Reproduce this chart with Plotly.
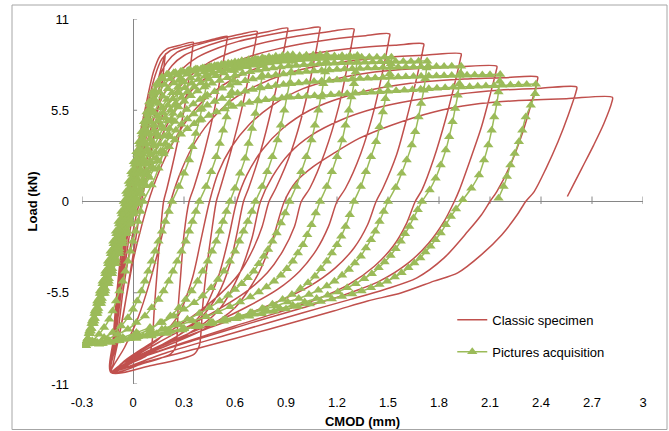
import plotly.graph_objects as go

# ---------------- axis ticks ----------------
x_ticks = [-0.3, 0, 0.3, 0.6, 0.9, 1.2, 1.5, 1.8, 2.1, 2.4, 2.7, 3]
x_tick_text = ["-0.3", "0", "0.3", "0.6", "0.9", "1.2", "1.5", "1.8", "2.1", "2.4", "2.7", "3"]
y_ticks = [-11, -5.5, 0, 5.5, 11]
y_tick_text = ["-11", "-5.5", "0", "5.5", "11"]

# ---------------- Classic specimen (CMOD mm, load kN), one list per cycle ----------------
red_cycle_01 = [(0.0, 0.0), (0.05, 2.5), (0.10, 5.0), (0.14, 7.0), (0.17, 8.2), (0.19, 8.9), (0.187, 8.6), (0.17, 7.0),
                (0.13, 4.5), (0.09, 2.0), (0.05, 0.0), (0.02, -2.0), (-0.02, -4.5), (-0.06, -7.0), (-0.10, -9.0), (-0.13, -10.3)]
red_cycle_02 = [(-0.115, -8.0), (-0.095, -5.5), (-0.07, -3.0), (-0.04, -0.5), (-0.01, 1.5), (0.03, 3.5), (0.08, 6.0), (0.12, 7.8),
                (0.16, 8.8), (0.20, 9.2), (0.27, 9.4), (0.355, 9.6), (0.352, 9.35), (0.33, 7.5), (0.30, 5.5), (0.25, 3.0), (0.20, 0.8),
                (0.18, 0.0), (0.16, -2.0), (0.14, -4.5), (0.125, -6.5), (0.115, -8.2), (0.105, -8.9), (0.08, -9.3), (0.0, -9.7), (-0.13, -10.3)]
red_cycle_03 = [(-0.11, -8.0), (-0.09, -5.5), (-0.06, -3.0), (-0.03, -0.5), (0.0, 1.5), (0.04, 3.5), (0.09, 6.0), (0.13, 7.6), (0.17, 8.6),
                (0.22, 9.1), (0.30, 9.35), (0.40, 9.6), (0.48, 9.8), (0.555, 9.95), (0.552, 9.7), (0.52, 7.8), (0.48, 5.6), (0.42, 3.0),
                (0.36, 0.9), (0.33, 0.0), (0.30, -2.0), (0.28, -4.5), (0.265, -6.5), (0.26, -8.0), (0.25, -8.8), (0.22, -9.2), (0.05, -9.8), (-0.13, -10.3)]
red_cycle_04 = [(-0.11, -8.0), (-0.085, -5.5), (-0.055, -3.0), (-0.025, -0.5), (0.01, 1.5), (0.05, 3.5), (0.10, 5.8), (0.15, 7.4), (0.20, 8.4),
                (0.26, 9.0), (0.35, 9.35), (0.45, 9.65), (0.55, 9.9), (0.64, 10.1), (0.73, 10.25), (0.727, 10.0), (0.69, 8.0), (0.64, 5.6),
                (0.57, 2.8), (0.51, 0.7), (0.49, 0.0), (0.46, -2.0), (0.43, -4.3), (0.41, -6.3), (0.40, -7.9), (0.39, -8.7), (0.36, -9.2),
                (0.10, -9.9), (-0.13, -10.3)]
red_cycle_05 = [(-0.105, -8.0), (-0.08, -5.5), (-0.05, -3.0), (-0.02, -0.5), (0.02, 1.5), (0.06, 3.5), (0.11, 5.6), (0.17, 7.2), (0.23, 8.2),
                (0.30, 8.8), (0.40, 9.25), (0.50, 9.6), (0.60, 9.85), (0.70, 10.05), (0.80, 10.25), (0.91, 10.45), (0.907, 10.2), (0.87, 8.2),
                (0.82, 5.8), (0.75, 3.0), (0.68, 0.8), (0.65, 0.0), (0.61, -2.0), (0.57, -3.8), (0.50, -5.6), (0.40, -7.0), (0.28, -8.0),
                (0.12, -8.9), (0.0, -9.6), (-0.13, -10.3)]
red_cycle_06 = [(-0.10, -8.0), (-0.075, -5.5), (-0.045, -3.0), (-0.01, -0.5), (0.03, 1.5), (0.08, 3.5), (0.14, 5.5), (0.21, 7.0), (0.29, 8.0),
                (0.38, 8.7), (0.50, 9.25), (0.62, 9.65), (0.75, 9.95), (0.88, 10.2), (1.00, 10.38), (1.10, 10.5), (1.097, 10.25), (1.06, 8.2),
                (1.01, 5.8), (0.93, 3.0), (0.84, 0.8), (0.80, 0.0), (0.76, -1.5), (0.70, -3.0), (0.62, -4.4), (0.51, -5.6), (0.38, -6.7),
                (0.22, -7.8), (0.05, -8.9), (-0.05, -9.6), (-0.13, -10.3)]
red_cycle_07 = [(-0.10, -8.0), (-0.07, -5.5), (-0.035, -3.0), (0.0, -0.7), (0.05, 1.3), (0.10, 3.2), (0.17, 5.1), (0.25, 6.6), (0.34, 7.6),
                (0.45, 8.4), (0.58, 9.0), (0.72, 9.45), (0.87, 9.8), (1.02, 10.05), (1.16, 10.25), (1.30, 10.4), (1.297, 10.15), (1.26, 8.1),
                (1.21, 5.7), (1.13, 3.0), (1.04, 0.8), (0.99, 0.0), (0.95, -1.5), (0.88, -3.0), (0.79, -4.3), (0.67, -5.4), (0.52, -6.4),
                (0.33, -7.5), (0.15, -8.5), (0.0, -9.4), (-0.13, -10.3)]
red_cycle_08 = [(-0.09, -8.0), (-0.06, -5.5), (-0.02, -3.0), (0.02, -0.8), (0.07, 1.2), (0.13, 3.0), (0.21, 4.8), (0.30, 6.2), (0.41, 7.3),
                (0.54, 8.1), (0.69, 8.75), (0.85, 9.2), (1.02, 9.55), (1.18, 9.8), (1.35, 9.98), (1.51, 10.1), (1.507, 9.85), (1.47, 7.9),
                (1.42, 5.6), (1.34, 2.9), (1.25, 0.8), (1.20, 0.0), (1.15, -1.5), (1.08, -2.9), (0.98, -4.2), (0.85, -5.3), (0.68, -6.3),
                (0.48, -7.3), (0.25, -8.3), (0.05, -9.3), (-0.13, -10.3)]
red_cycle_09 = [(-0.08, -8.0), (-0.04, -5.8), (0.0, -3.6), (0.05, -1.5), (0.10, 0.3), (0.17, 2.2), (0.26, 4.0), (0.37, 5.6), (0.50, 6.8),
                (0.65, 7.7), (0.82, 8.35), (1.00, 8.8), (1.18, 9.1), (1.36, 9.3), (1.54, 9.42), (1.71, 9.5), (1.707, 9.25), (1.67, 7.5),
                (1.62, 5.4), (1.55, 2.8), (1.47, 0.8), (1.43, 0.0), (1.38, -1.4), (1.30, -2.8), (1.19, -4.0), (1.04, -5.1), (0.86, -6.0),
                (0.64, -6.9), (0.40, -7.8), (0.15, -8.8), (-0.13, -10.3)]
red_cycle_10 = [(-0.05, -8.8), (0.03, -7.0), (0.10, -4.8), (0.16, -2.5), (0.21, -0.4), (0.27, 1.5), (0.35, 3.3), (0.45, 4.8), (0.58, 6.1),
                (0.73, 7.0), (0.90, 7.7), (1.10, 8.2), (1.30, 8.5), (1.50, 8.7), (1.72, 8.82), (1.93, 8.9), (1.927, 8.65), (1.89, 7.0),
                (1.84, 5.0), (1.77, 2.6), (1.70, 0.7), (1.66, 0.0), (1.61, -1.3), (1.53, -2.7), (1.42, -3.9), (1.27, -5.0), (1.08, -5.9),
                (0.85, -6.7), (0.60, -7.5), (0.30, -8.5), (0.05, -9.4), (-0.13, -10.3)]
red_cycle_11 = [(0.0, -9.3), (0.15, -8.3), (0.27, -6.8), (0.35, -4.6), (0.40, -2.3), (0.45, 0.0), (0.50, 1.7), (0.58, 3.3), (0.68, 4.6),
                (0.82, 5.8), (1.00, 6.8), (1.20, 7.4), (1.42, 7.8), (1.65, 8.0), (1.90, 8.1), (2.14, 8.15), (2.137, 7.9), (2.10, 6.4),
                (2.05, 4.5), (1.98, 2.4), (1.92, 0.7), (1.89, 0.0), (1.83, -1.2), (1.74, -2.5), (1.62, -3.7), (1.45, -4.8), (1.25, -5.6),
                (1.00, -6.4), (0.70, -7.3), (0.35, -8.4), (0.05, -9.4), (-0.13, -10.3)]
red_cycle_12 = [(0.05, -9.2), (0.25, -8.2), (0.40, -6.8), (0.50, -4.6), (0.56, -2.3), (0.61, 0.0), (0.67, 1.6), (0.76, 3.1), (0.88, 4.4),
                (1.04, 5.5), (1.24, 6.3), (1.46, 6.85), (1.70, 7.2), (1.95, 7.38), (2.18, 7.46), (2.38, 7.5), (2.377, 7.25), (2.34, 5.8),
                (2.29, 4.1), (2.22, 2.2), (2.14, 0.6), (2.10, 0.0), (2.05, -0.8), (1.97, -1.8), (1.83, -3.4), (1.67, -4.6), (1.48, -5.3),
                (1.28, -5.9), (1.00, -6.7), (0.60, -7.9), (0.20, -9.1), (-0.13, -10.3)]
red_cycle_13 = [(0.10, -9.0), (0.32, -8.0), (0.50, -6.6), (0.62, -4.5), (0.70, -2.2), (0.75, 0.0), (0.82, 1.5), (0.92, 2.9), (1.05, 4.0),
                (1.22, 4.9), (1.42, 5.6), (1.65, 6.1), (1.90, 6.45), (2.15, 6.7), (2.40, 6.83), (2.61, 6.9), (2.607, 6.65), (2.56, 5.2),
                (2.50, 3.6), (2.43, 2.0), (2.36, 0.6), (2.31, 0.0), (2.26, -0.8), (2.17, -2.0), (2.05, -3.2), (1.91, -4.3), (1.77, -4.8),
                (1.58, -5.5), (1.38, -6.0), (1.18, -6.6), (0.80, -7.7), (0.40, -8.8), (0.10, -9.6), (-0.13, -10.3)]
red_cycle_14 = [(0.15, -8.9), (0.40, -7.8), (0.60, -6.4), (0.74, -4.3), (0.83, -2.0), (0.89, 0.0), (0.96, 1.2), (1.06, 2.1), (1.18, 2.9),
                (1.33, 3.8), (1.52, 4.6), (1.77, 5.4), (2.00, 5.85), (2.25, 6.08), (2.55, 6.2), (2.82, 6.28), (2.817, 6.0), (2.77, 4.7),
                (2.71, 3.4), (2.64, 2.0), (2.59, 1.0), (2.555, 0.3)]

# ---------------- Pictures acquisition, one list per cycle ----------------
green_cycle_01 = [(0.0, 0.0), (0.01, 0.6), (0.02, 1.2), (0.035, 1.8), (0.045, 2.4), (0.055, 3.0), (0.065, 3.6), (0.075, 4.2), (0.09, 4.8),
                  (0.10, 5.4), (0.115, 6.0), (0.13, 6.6), (0.15, 7.1), (0.17, 7.5), (0.20, 7.65), (0.24, 7.75), (0.28, 7.8),
                  (0.275, 7.3), (0.265, 6.6), (0.25, 5.8), (0.23, 4.9), (0.21, 4.0), (0.18, 3.0), (0.15, 2.0), (0.11, 1.0), (0.06, 0.0),
                  (0.045, -0.6), (0.03, -1.2), (0.015, -1.8), (0.0, -2.4), (-0.015, -3.0), (-0.03, -3.6), (-0.045, -4.2), (-0.06, -4.8),
                  (-0.08, -5.4), (-0.10, -6.0), (-0.12, -6.6), (-0.14, -7.1), (-0.17, -7.6), (-0.20, -8.0), (-0.24, -8.4), (-0.28, -8.7)]
green_cycle_02 = [(-0.272, -8.4), (-0.257, -7.8), (-0.241, -7.2), (-0.225, -6.6), (-0.21, -6.0), (-0.194, -5.4), (-0.179, -4.8),
                  (-0.163, -4.2), (-0.147, -3.6), (-0.132, -3.0), (-0.116, -2.4), (-0.101, -1.8), (-0.085, -1.2), (-0.069, -0.6),
                  (-0.054, 0.0), (-0.04, 0.6), (-0.025, 1.2), (-0.01, 1.8), (0.005, 2.4), (0.02, 3.0), (0.035, 3.6), (0.05, 4.2),
                  (0.065, 4.8), (0.08, 5.4), (0.095, 6.0), (0.115, 6.6), (0.14, 7.1), (0.17, 7.45), (0.20, 7.65), (0.24, 7.75),
                  (0.28, 7.82), (0.32, 7.87), (0.36, 7.92), (0.40, 7.96), (0.44, 8.0),
                  (0.437, 7.6), (0.43, 7.0), (0.42, 6.3), (0.405, 5.6), (0.39, 4.9), (0.37, 4.1), (0.35, 3.3), (0.33, 2.5), (0.30, 1.7),
                  (0.27, 0.9), (0.23, 0.0), (0.21, -0.6), (0.19, -1.2), (0.17, -1.8), (0.15, -2.4), (0.13, -3.0), (0.11, -3.6),
                  (0.09, -4.2), (0.07, -4.8), (0.05, -5.4), (0.025, -6.0), (0.0, -6.5), (-0.03, -7.0), (-0.07, -7.5), (-0.12, -7.9),
                  (-0.17, -8.2), (-0.22, -8.45), (-0.28, -8.7)]
green_cycle_03 = [(-0.276, -8.55), (-0.26, -7.95), (-0.244, -7.35), (-0.227, -6.75), (-0.211, -6.15), (-0.195, -5.55), (-0.179, -4.95),
                  (-0.163, -4.35), (-0.146, -3.75), (-0.13, -3.15), (-0.114, -2.55), (-0.098, -1.95), (-0.082, -1.35), (-0.065, -0.75),
                  (-0.049, -0.15), (-0.035, 0.45), (-0.02, 1.05), (-0.005, 1.65), (0.01, 2.25), (0.025, 2.85), (0.04, 3.45), (0.055, 4.05),
                  (0.07, 4.65), (0.085, 5.25), (0.10, 5.85), (0.12, 6.45), (0.145, 7.0), (0.175, 7.4), (0.21, 7.65), (0.25, 7.78),
                  (0.29, 7.86), (0.33, 7.93), (0.37, 7.99), (0.41, 8.05), (0.45, 8.1), (0.49, 8.16), (0.53, 8.21), (0.565, 8.26), (0.60, 8.3),
                  (0.597, 7.9), (0.59, 7.3), (0.58, 6.6), (0.565, 5.9), (0.55, 5.1), (0.53, 4.3), (0.51, 3.5), (0.49, 2.7), (0.46, 1.8),
                  (0.43, 0.9), (0.39, 0.0), (0.37, -0.6), (0.35, -1.2), (0.33, -1.8), (0.31, -2.4), (0.285, -3.0), (0.26, -3.6),
                  (0.235, -4.2), (0.21, -4.8), (0.18, -5.4), (0.15, -5.9), (0.11, -6.4), (0.07, -6.9), (0.02, -7.3), (-0.03, -7.7),
                  (-0.09, -8.0), (-0.15, -8.3), (-0.21, -8.5), (-0.28, -8.7)]
green_cycle_04 = [(-0.267, -8.25), (-0.251, -7.65), (-0.234, -7.05), (-0.217, -6.45), (-0.20, -5.85), (-0.183, -5.25), (-0.167, -4.65),
                  (-0.15, -4.05), (-0.133, -3.45), (-0.116, -2.85), (-0.099, -2.25), (-0.083, -1.65), (-0.066, -1.05), (-0.049, -0.45),
                  (-0.034, 0.15), (-0.02, 0.75), (-0.005, 1.35), (0.01, 1.95), (0.025, 2.55), (0.04, 3.15), (0.055, 3.75), (0.07, 4.35),
                  (0.09, 4.95), (0.11, 5.55), (0.13, 6.1), (0.155, 6.6), (0.185, 7.05), (0.22, 7.4), (0.26, 7.62), (0.30, 7.77),
                  (0.34, 7.88), (0.38, 7.97), (0.42, 8.05), (0.46, 8.13), (0.50, 8.2), (0.54, 8.27), (0.58, 8.34), (0.62, 8.4),
                  (0.66, 8.46), (0.70, 8.52), (0.735, 8.56), (0.77, 8.6),
                  (0.767, 8.2), (0.76, 7.6), (0.75, 6.9), (0.735, 6.1), (0.72, 5.3), (0.70, 4.4), (0.68, 3.5), (0.66, 2.6), (0.63, 1.7),
                  (0.60, 0.8), (0.57, 0.0), (0.55, -0.6), (0.53, -1.2), (0.51, -1.8), (0.49, -2.4), (0.465, -3.0), (0.44, -3.6),
                  (0.41, -4.2), (0.38, -4.8), (0.345, -5.4), (0.31, -5.9), (0.27, -6.4), (0.22, -6.9), (0.16, -7.3), (0.10, -7.7),
                  (0.03, -8.0), (-0.05, -8.3), (-0.13, -8.5), (-0.20, -8.6), (-0.28, -8.7)]
green_cycle_05 = [(-0.271, -8.4), (-0.254, -7.8), (-0.237, -7.2), (-0.219, -6.6), (-0.202, -6.0), (-0.184, -5.4), (-0.167, -4.8),
                  (-0.149, -4.2), (-0.132, -3.6), (-0.115, -3.0), (-0.097, -2.4), (-0.08, -1.8), (-0.062, -1.2), (-0.045, -0.6),
                  (-0.028, 0.0), (-0.013, 0.6), (0.002, 1.2), (0.017, 1.8), (0.033, 2.4), (0.05, 3.0), (0.067, 3.6), (0.085, 4.2),
                  (0.105, 4.8), (0.125, 5.35), (0.15, 5.9), (0.175, 6.35), (0.205, 6.8), (0.24, 7.15), (0.28, 7.45), (0.32, 7.67),
                  (0.36, 7.85), (0.40, 7.98), (0.44, 8.08), (0.48, 8.18), (0.52, 8.26), (0.56, 8.34), (0.60, 8.41), (0.64, 8.48),
                  (0.68, 8.54), (0.72, 8.6), (0.76, 8.66), (0.80, 8.71), (0.84, 8.76), (0.88, 8.8), (0.91, 8.83), (0.94, 8.85),
                  (0.937, 8.45), (0.93, 7.8), (0.92, 7.1), (0.905, 6.3), (0.89, 5.5), (0.87, 4.6), (0.85, 3.7), (0.82, 2.7), (0.79, 1.8),
                  (0.76, 0.9), (0.72, 0.0), (0.70, -0.6), (0.675, -1.2), (0.65, -1.8), (0.625, -2.4), (0.60, -3.0), (0.57, -3.6),
                  (0.535, -4.2), (0.50, -4.7), (0.46, -5.2), (0.41, -5.7), (0.36, -6.1), (0.30, -6.5), (0.24, -6.9), (0.17, -7.3),
                  (0.10, -7.6), (0.02, -7.9), (-0.06, -8.2), (-0.14, -8.4), (-0.21, -8.55), (-0.28, -8.7)]
green_cycle_06 = [(-0.276, -8.55), (-0.258, -7.95), (-0.24, -7.35), (-0.222, -6.75), (-0.204, -6.15), (-0.186, -5.55), (-0.168, -4.95),
                  (-0.15, -4.35), (-0.132, -3.75), (-0.114, -3.15), (-0.096, -2.55), (-0.078, -1.95), (-0.06, -1.35), (-0.042, -0.75),
                  (-0.024, -0.15), (-0.008, 0.45), (0.008, 1.05), (0.025, 1.65), (0.042, 2.25), (0.06, 2.85), (0.08, 3.45), (0.10, 4.05),
                  (0.12, 4.6), (0.145, 5.15), (0.17, 5.65), (0.20, 6.15), (0.23, 6.55), (0.265, 6.9), (0.30, 7.2), (0.34, 7.45),
                  (0.38, 7.65), (0.42, 7.8), (0.46, 7.93), (0.50, 8.04), (0.54, 8.14), (0.58, 8.23), (0.62, 8.31), (0.66, 8.38),
                  (0.70, 8.45), (0.74, 8.51), (0.78, 8.57), (0.82, 8.62), (0.86, 8.67), (0.90, 8.71), (0.94, 8.75), (0.98, 8.78),
                  (1.02, 8.81), (1.06, 8.83), (1.10, 8.84), (1.14, 8.85),
                  (1.137, 8.45), (1.13, 7.8), (1.12, 7.1), (1.105, 6.3), (1.09, 5.5), (1.07, 4.6), (1.05, 3.7), (1.02, 2.7), (0.99, 1.8),
                  (0.96, 0.9), (0.92, 0.0), (0.895, -0.7), (0.87, -1.3), (0.845, -1.9), (0.82, -2.4), (0.795, -2.9), (0.77, -3.3),
                  (0.74, -3.75), (0.71, -4.2), (0.675, -4.6), (0.64, -4.95), (0.60, -5.3), (0.56, -5.65), (0.51, -6.0), (0.45, -6.4),
                  (0.39, -6.75), (0.32, -7.1), (0.25, -7.4), (0.17, -7.7), (0.09, -7.95), (0.0, -8.15), (-0.09, -8.35), (-0.19, -8.55),
                  (-0.28, -8.7)]
green_cycle_07 = [(-0.266, -8.25), (-0.247, -7.65), (-0.229, -7.05), (-0.21, -6.45), (-0.192, -5.85), (-0.173, -5.25), (-0.154, -4.65),
                  (-0.136, -4.05), (-0.117, -3.45), (-0.099, -2.85), (-0.08, -2.25), (-0.061, -1.65), (-0.043, -1.05), (-0.024, -0.45),
                  (-0.008, 0.15), (0.008, 0.75), (0.025, 1.35), (0.043, 1.95), (0.062, 2.55), (0.082, 3.15), (0.103, 3.75), (0.125, 4.3),
                  (0.15, 4.85), (0.177, 5.35), (0.205, 5.8), (0.235, 6.2), (0.27, 6.55), (0.305, 6.85), (0.345, 7.12), (0.385, 7.35),
                  (0.425, 7.55), (0.465, 7.72), (0.51, 7.87), (0.555, 8.0), (0.60, 8.1), (0.645, 8.2), (0.69, 8.28), (0.735, 8.35),
                  (0.78, 8.42), (0.825, 8.48), (0.87, 8.53), (0.915, 8.58), (0.96, 8.62), (1.005, 8.66), (1.05, 8.69), (1.095, 8.72),
                  (1.14, 8.75), (1.185, 8.77), (1.23, 8.78), (1.275, 8.79), (1.32, 8.8),
                  (1.317, 8.4), (1.31, 7.8), (1.30, 7.1), (1.285, 6.3), (1.27, 5.5), (1.25, 4.6), (1.23, 3.7), (1.20, 2.7), (1.17, 1.8),
                  (1.14, 0.9), (1.10, 0.0), (1.075, -0.7), (1.05, -1.4), (1.025, -2.0), (1.0, -2.6), (0.97, -3.1), (0.94, -3.6),
                  (0.905, -4.05), (0.87, -4.45), (0.83, -4.8), (0.785, -5.15), (0.74, -5.45), (0.69, -5.75), (0.63, -6.05), (0.57, -6.35),
                  (0.50, -6.65), (0.43, -6.95), (0.35, -7.2), (0.27, -7.45), (0.19, -7.7), (0.10, -7.95), (0.01, -8.15), (-0.08, -8.35),
                  (-0.18, -8.55), (-0.28, -8.7)]
green_cycle_08 = [(-0.27, -8.4), (-0.251, -7.8), (-0.232, -7.2), (-0.213, -6.6), (-0.194, -6.0), (-0.174, -5.4), (-0.155, -4.8),
                  (-0.136, -4.2), (-0.117, -3.6), (-0.098, -3.0), (-0.078, -2.4), (-0.059, -1.8), (-0.04, -1.2), (-0.021, -0.6),
                  (-0.002, 0.0), (0.015, 0.6), (0.033, 1.2), (0.052, 1.8), (0.072, 2.4), (0.093, 3.0), (0.115, 3.55), (0.14, 4.1),
                  (0.165, 4.6), (0.19, 5.05), (0.22, 5.5), (0.25, 5.9), (0.285, 6.27), (0.32, 6.6), (0.36, 6.9), (0.40, 7.15),
                  (0.445, 7.38), (0.49, 7.58), (0.535, 7.75), (0.58, 7.9), (0.625, 8.02), (0.67, 8.12), (0.715, 8.21), (0.76, 8.28),
                  (0.805, 8.35), (0.85, 8.41), (0.895, 8.46), (0.94, 8.5), (0.985, 8.54), (1.03, 8.57), (1.075, 8.6), (1.12, 8.62),
                  (1.165, 8.64), (1.21, 8.66), (1.255, 8.67), (1.30, 8.68), (1.345, 8.69), (1.39, 8.695), (1.435, 8.7), (1.48, 8.7), (1.52, 8.7),
                  (1.517, 8.3), (1.51, 7.7), (1.50, 7.0), (1.485, 6.2), (1.47, 5.4), (1.45, 4.5), (1.43, 3.6), (1.40, 2.7), (1.37, 1.8),
                  (1.34, 0.9), (1.30, 0.0), (1.275, -0.8), (1.25, -1.5), (1.225, -2.1), (1.20, -2.6), (1.17, -3.1), (1.14, -3.6),
                  (1.105, -4.05), (1.07, -4.5), (1.03, -4.9), (0.985, -5.25), (0.935, -5.6), (0.88, -5.9), (0.82, -6.2), (0.76, -6.45),
                  (0.69, -6.7), (0.615, -6.95), (0.53, -7.15), (0.45, -7.35), (0.37, -7.55), (0.29, -7.75), (0.20, -7.95), (0.11, -8.1),
                  (0.02, -8.25), (-0.08, -8.4), (-0.18, -8.55), (-0.28, -8.7)]
green_cycle_09 = [(-0.275, -8.55), (-0.255, -7.95), (-0.235, -7.35), (-0.216, -6.75), (-0.196, -6.15), (-0.176, -5.55), (-0.156, -4.95),
                  (-0.136, -4.35), (-0.117, -3.75), (-0.097, -3.15), (-0.077, -2.55), (-0.057, -1.95), (-0.037, -1.35), (-0.018, -0.75),
                  (0.002, -0.15), (0.02, 0.45), (0.039, 1.05), (0.059, 1.65), (0.08, 2.25), (0.102, 2.8), (0.125, 3.35), (0.15, 3.9),
                  (0.177, 4.4), (0.205, 4.85), (0.235, 5.3), (0.268, 5.7), (0.302, 6.05), (0.34, 6.38), (0.38, 6.66), (0.42, 6.9),
                  (0.465, 7.12), (0.51, 7.3), (0.555, 7.46), (0.60, 7.6), (0.645, 7.72), (0.69, 7.82), (0.735, 7.91), (0.78, 7.98),
                  (0.825, 8.05), (0.87, 8.11), (0.915, 8.16), (0.96, 8.2), (1.005, 8.24), (1.05, 8.27), (1.095, 8.3), (1.14, 8.32),
                  (1.185, 8.34), (1.23, 8.36), (1.275, 8.38), (1.32, 8.39), (1.365, 8.4), (1.41, 8.41), (1.455, 8.42), (1.50, 8.43),
                  (1.545, 8.435), (1.59, 8.44), (1.635, 8.445), (1.68, 8.45), (1.73, 8.45),
                  (1.727, 8.05), (1.72, 7.4), (1.71, 6.7), (1.695, 5.9), (1.68, 5.1), (1.66, 4.2), (1.64, 3.4), (1.61, 2.5), (1.58, 1.7),
                  (1.545, 0.85), (1.50, 0.0), (1.475, -0.6), (1.45, -1.2), (1.425, -1.8), (1.40, -2.3), (1.37, -2.8), (1.34, -3.3),
                  (1.305, -3.7), (1.27, -4.1), (1.23, -4.45), (1.185, -4.8), (1.14, -5.1), (1.09, -5.35), (1.035, -5.6), (0.975, -5.85),
                  (0.91, -6.05), (0.84, -6.3), (0.77, -6.5), (0.70, -6.7), (0.62, -6.9), (0.54, -7.1), (0.46, -7.3), (0.38, -7.5),
                  (0.29, -7.7), (0.20, -7.9), (0.11, -8.05), (0.02, -8.2), (-0.08, -8.35), (-0.18, -8.55), (-0.28, -8.7)]
green_cycle_10 = [(-0.265, -8.25), (-0.244, -7.65), (-0.224, -7.05), (-0.204, -6.45), (-0.183, -5.85), (-0.163, -5.25), (-0.142, -4.65),
                  (-0.122, -4.05), (-0.102, -3.45), (-0.081, -2.85), (-0.061, -2.25), (-0.04, -1.65), (-0.02, -1.05), (0.001, -0.45),
                  (0.02, 0.15), (0.04, 0.75), (0.06, 1.3), (0.082, 1.85), (0.105, 2.4), (0.13, 2.95), (0.156, 3.45), (0.184, 3.95),
                  (0.214, 4.4), (0.246, 4.82), (0.28, 5.2), (0.316, 5.55), (0.355, 5.87), (0.395, 6.15), (0.437, 6.4), (0.48, 6.62),
                  (0.525, 6.82), (0.57, 7.0), (0.615, 7.15), (0.66, 7.28), (0.705, 7.39), (0.75, 7.48), (0.795, 7.56), (0.84, 7.63),
                  (0.885, 7.69), (0.93, 7.74), (0.975, 7.79), (1.02, 7.83), (1.065, 7.87), (1.11, 7.9), (1.155, 7.93), (1.20, 7.96),
                  (1.245, 7.98), (1.29, 8.0), (1.335, 8.02), (1.38, 8.04), (1.425, 8.05), (1.47, 8.07), (1.515, 8.08), (1.56, 8.09),
                  (1.605, 8.1), (1.65, 8.11), (1.695, 8.12), (1.74, 8.13), (1.785, 8.135), (1.83, 8.14), (1.875, 8.145), (1.93, 8.15),
                  (1.927, 7.75), (1.92, 7.1), (1.91, 6.4), (1.895, 5.6), (1.88, 4.8), (1.86, 3.9), (1.84, 3.1), (1.81, 2.2), (1.78, 1.4),
                  (1.745, 0.7), (1.70, 0.0), (1.675, -0.5), (1.65, -1.0), (1.625, -1.5), (1.60, -1.95), (1.575, -2.4), (1.545, -2.85),
                  (1.515, -3.25), (1.48, -3.65), (1.445, -4.0), (1.405, -4.35), (1.36, -4.65), (1.31, -4.95), (1.26, -5.2), (1.205, -5.45),
                  (1.145, -5.65), (1.08, -5.85), (1.01, -6.05), (0.94, -6.25), (0.865, -6.45), (0.79, -6.62), (0.71, -6.8), (0.63, -6.97),
                  (0.55, -7.14), (0.47, -7.3), (0.39, -7.47), (0.30, -7.65), (0.21, -7.83), (0.12, -8.0), (0.03, -8.15), (-0.06, -8.3),
                  (-0.15, -8.45), (-0.22, -8.58), (-0.28, -8.7)]
green_cycle_11 = [(-0.27, -8.4), (-0.249, -7.8), (-0.228, -7.2), (-0.207, -6.6), (-0.186, -6.0), (-0.164, -5.4), (-0.143, -4.8),
                  (-0.122, -4.2), (-0.101, -3.6), (-0.08, -3.0), (-0.059, -2.4), (-0.038, -1.8), (-0.017, -1.2), (0.004, -0.6),
                  (0.025, 0.0), (0.045, 0.55), (0.066, 1.1), (0.088, 1.6), (0.112, 2.1), (0.137, 2.6), (0.163, 3.05), (0.19, 3.5),
                  (0.22, 3.9), (0.252, 4.3), (0.285, 4.65), (0.32, 4.98), (0.357, 5.28), (0.396, 5.55), (0.437, 5.8), (0.48, 6.02),
                  (0.525, 6.21), (0.57, 6.38), (0.615, 6.52), (0.66, 6.64), (0.705, 6.75), (0.75, 6.84), (0.795, 6.92), (0.84, 6.99),
                  (0.885, 7.05), (0.93, 7.1), (0.975, 7.15), (1.02, 7.19), (1.065, 7.23), (1.11, 7.27), (1.155, 7.3), (1.20, 7.33),
                  (1.245, 7.36), (1.29, 7.38), (1.335, 7.41), (1.38, 7.43), (1.425, 7.45), (1.47, 7.47), (1.515, 7.49), (1.56, 7.5),
                  (1.605, 7.52), (1.65, 7.53), (1.695, 7.55), (1.74, 7.56), (1.785, 7.57), (1.83, 7.58), (1.875, 7.59), (1.92, 7.6),
                  (1.965, 7.61), (2.01, 7.62), (2.055, 7.63), (2.10, 7.64), (2.16, 7.65),
                  (2.157, 7.25), (2.15, 6.6), (2.14, 5.9), (2.125, 5.1), (2.11, 4.3), (2.09, 3.4), (2.065, 2.5), (2.035, 1.6), (1.99, 0.8),
                  (1.94, 0.1), (1.90, -0.45), (1.87, -0.9), (1.84, -1.4), (1.81, -1.9), (1.78, -2.3), (1.75, -2.7), (1.72, -3.05),
                  (1.69, -3.4), (1.655, -3.7), (1.62, -4.0), (1.58, -4.3), (1.54, -4.55), (1.495, -4.8), (1.45, -5.0), (1.40, -5.2),
                  (1.345, -5.4), (1.29, -5.57), (1.23, -5.73), (1.17, -5.88), (1.105, -6.03), (1.04, -6.18), (0.97, -6.33), (0.90, -6.48),
                  (0.83, -6.62), (0.76, -6.77), (0.685, -6.92), (0.61, -7.07), (0.535, -7.22), (0.46, -7.37), (0.38, -7.52), (0.30, -7.67),
                  (0.22, -7.82), (0.14, -7.97), (0.06, -8.12), (-0.02, -8.27), (-0.10, -8.41), (-0.19, -8.56), (-0.28, -8.7)]
green_cycle_12 = [(-0.275, -8.55), (-0.253, -7.95), (-0.231, -7.35), (-0.21, -6.75), (-0.188, -6.15), (-0.167, -5.55), (-0.145, -4.95),
                  (-0.123, -4.35), (-0.102, -3.75), (-0.08, -3.15), (-0.059, -2.55), (-0.037, -1.95), (-0.015, -1.35), (0.006, -0.75),
                  (0.028, -0.15), (0.05, 0.45), (0.072, 0.95), (0.096, 1.45), (0.122, 1.95), (0.15, 2.42), (0.18, 2.87), (0.212, 3.3),
                  (0.246, 3.7), (0.282, 4.05), (0.32, 4.38), (0.36, 4.68), (0.402, 4.95), (0.446, 5.19), (0.492, 5.4), (0.54, 5.58),
                  (0.588, 5.73), (0.636, 5.86), (0.684, 5.97), (0.732, 6.06), (0.78, 6.13), (0.828, 6.19), (0.876, 6.24), (0.924, 6.28),
                  (0.972, 6.31), (1.02, 6.34), (1.068, 6.37), (1.116, 6.4), (1.164, 6.43), (1.212, 6.46), (1.26, 6.49), (1.308, 6.52),
                  (1.356, 6.55), (1.404, 6.58), (1.452, 6.61), (1.50, 6.64), (1.548, 6.67), (1.596, 6.7), (1.644, 6.73), (1.692, 6.76),
                  (1.74, 6.79), (1.788, 6.82), (1.836, 6.85), (1.884, 6.88), (1.932, 6.9), (1.98, 6.92), (2.028, 6.94), (2.076, 6.96),
                  (2.124, 6.98), (2.172, 7.0), (2.22, 7.02), (2.268, 7.04), (2.316, 7.05), (2.37, 7.06),
                  (2.365, 6.5), (2.34, 5.8), (2.31, 5.1), (2.29, 4.3), (2.27, 3.6), (2.245, 2.9), (2.22, 2.2), (2.20, 1.5), (2.18, 0.9),
                  (2.15, 0.2)]

red_cycles = [red_cycle_01, red_cycle_02, red_cycle_03, red_cycle_04, red_cycle_05, red_cycle_06, red_cycle_07,
              red_cycle_08, red_cycle_09, red_cycle_10, red_cycle_11, red_cycle_12, red_cycle_13, red_cycle_14]
green_cycles = [green_cycle_01, green_cycle_02, green_cycle_03, green_cycle_04, green_cycle_05, green_cycle_06,
                green_cycle_07, green_cycle_08, green_cycle_09, green_cycle_10, green_cycle_11, green_cycle_12]

red_x = [p[0] for c in red_cycles for p in c]
red_y = [p[1] for c in red_cycles for p in c]
green_x = [p[0] for c in green_cycles for p in c]
green_y = [p[1] for c in green_cycles for p in c]

RED = "#C0504D"
GREEN = "#9BBB59"
AXIS = "#868686"
FONT = "Liberation Sans, Arial, sans-serif"

fig = go.Figure()
fig.add_trace(go.Scatter(
    x=red_x, y=red_y, mode="lines", name="Classic specimen", legendgroup="a",
    line=dict(color=RED, width=1.5, shape="spline", smoothing=0.8),
))
fig.add_trace(go.Scatter(
    x=green_x, y=green_y, mode="lines+markers", name="Pictures acquisition", legendgroup="b",
    line=dict(color=GREEN, width=1.5, shape="spline", smoothing=0.8),
    marker=dict(symbol="triangle-up", size=9, color=GREEN, line=dict(width=0)),
))

W, H = 669, 431
ML, MR, MT, MB = 82, 26, 19, 47
pw, ph = W - ML - MR, H - MT - MB

shapes = []
# small tick marks along the crossing axes
for v in x_ticks:
    shapes.append(dict(type="line", xref="x", yref="y", x0=v, x1=v, y0=-0.15, y1=0.3,
                       line=dict(color=AXIS, width=1), layer="below"))
for v in y_ticks:
    shapes.append(dict(type="line", xref="x", yref="y", x0=0, x1=0.024, y0=v, y1=v,
                       line=dict(color=AXIS, width=1), layer="below"))
# outer chart border
shapes.append(dict(type="rect", xref="paper", yref="paper",
                   x0=(12 - ML) / pw, x1=(667 - ML) / pw,
                   y0=(H - MB - 429.5) / ph, y1=(H - MB - 5) / ph,
                   line=dict(color="#A6A6A6", width=1), fillcolor="rgba(0,0,0,0)", layer="below"))

fig.update_layout(
    width=W, height=H,
    margin=dict(l=ML, r=MR, t=MT, b=MB, autoexpand=False),
    paper_bgcolor="white", plot_bgcolor="white",
    font=dict(family=FONT, size=13, color="black"),
    showlegend=True,
    legend=dict(x=0.66, y=0.217, xanchor="left", yanchor="top",
                bgcolor="rgba(0,0,0,0)", font=dict(size=13, family=FONT),
                tracegroupgap=12, itemwidth=30),
    shapes=shapes,
    xaxis=dict(range=[-0.3, 3], tickvals=x_ticks, ticktext=x_tick_text, showgrid=False, automargin=False,
               zeroline=True, zerolinecolor=AXIS, zerolinewidth=1, showline=False, ticks="",
               ticklabelstandoff=9, tickfont=dict(size=13, family=FONT),
               title=dict(text="CMOD (mm)", font=dict(size=13, family=FONT, weight="bold"), standoff=7)),
    yaxis=dict(range=[-11, 11], tickvals=y_ticks, ticktext=y_tick_text, showgrid=False, automargin=False,
               zeroline=True, zerolinecolor=AXIS, zerolinewidth=1, showline=False, ticks="",
               ticklabelstandoff=12, tickfont=dict(size=13, family=FONT),
               title=dict(text="Load (kN)", font=dict(size=13, family=FONT, weight="bold"), standoff=6)),
)

fig.write_html("out.html")
